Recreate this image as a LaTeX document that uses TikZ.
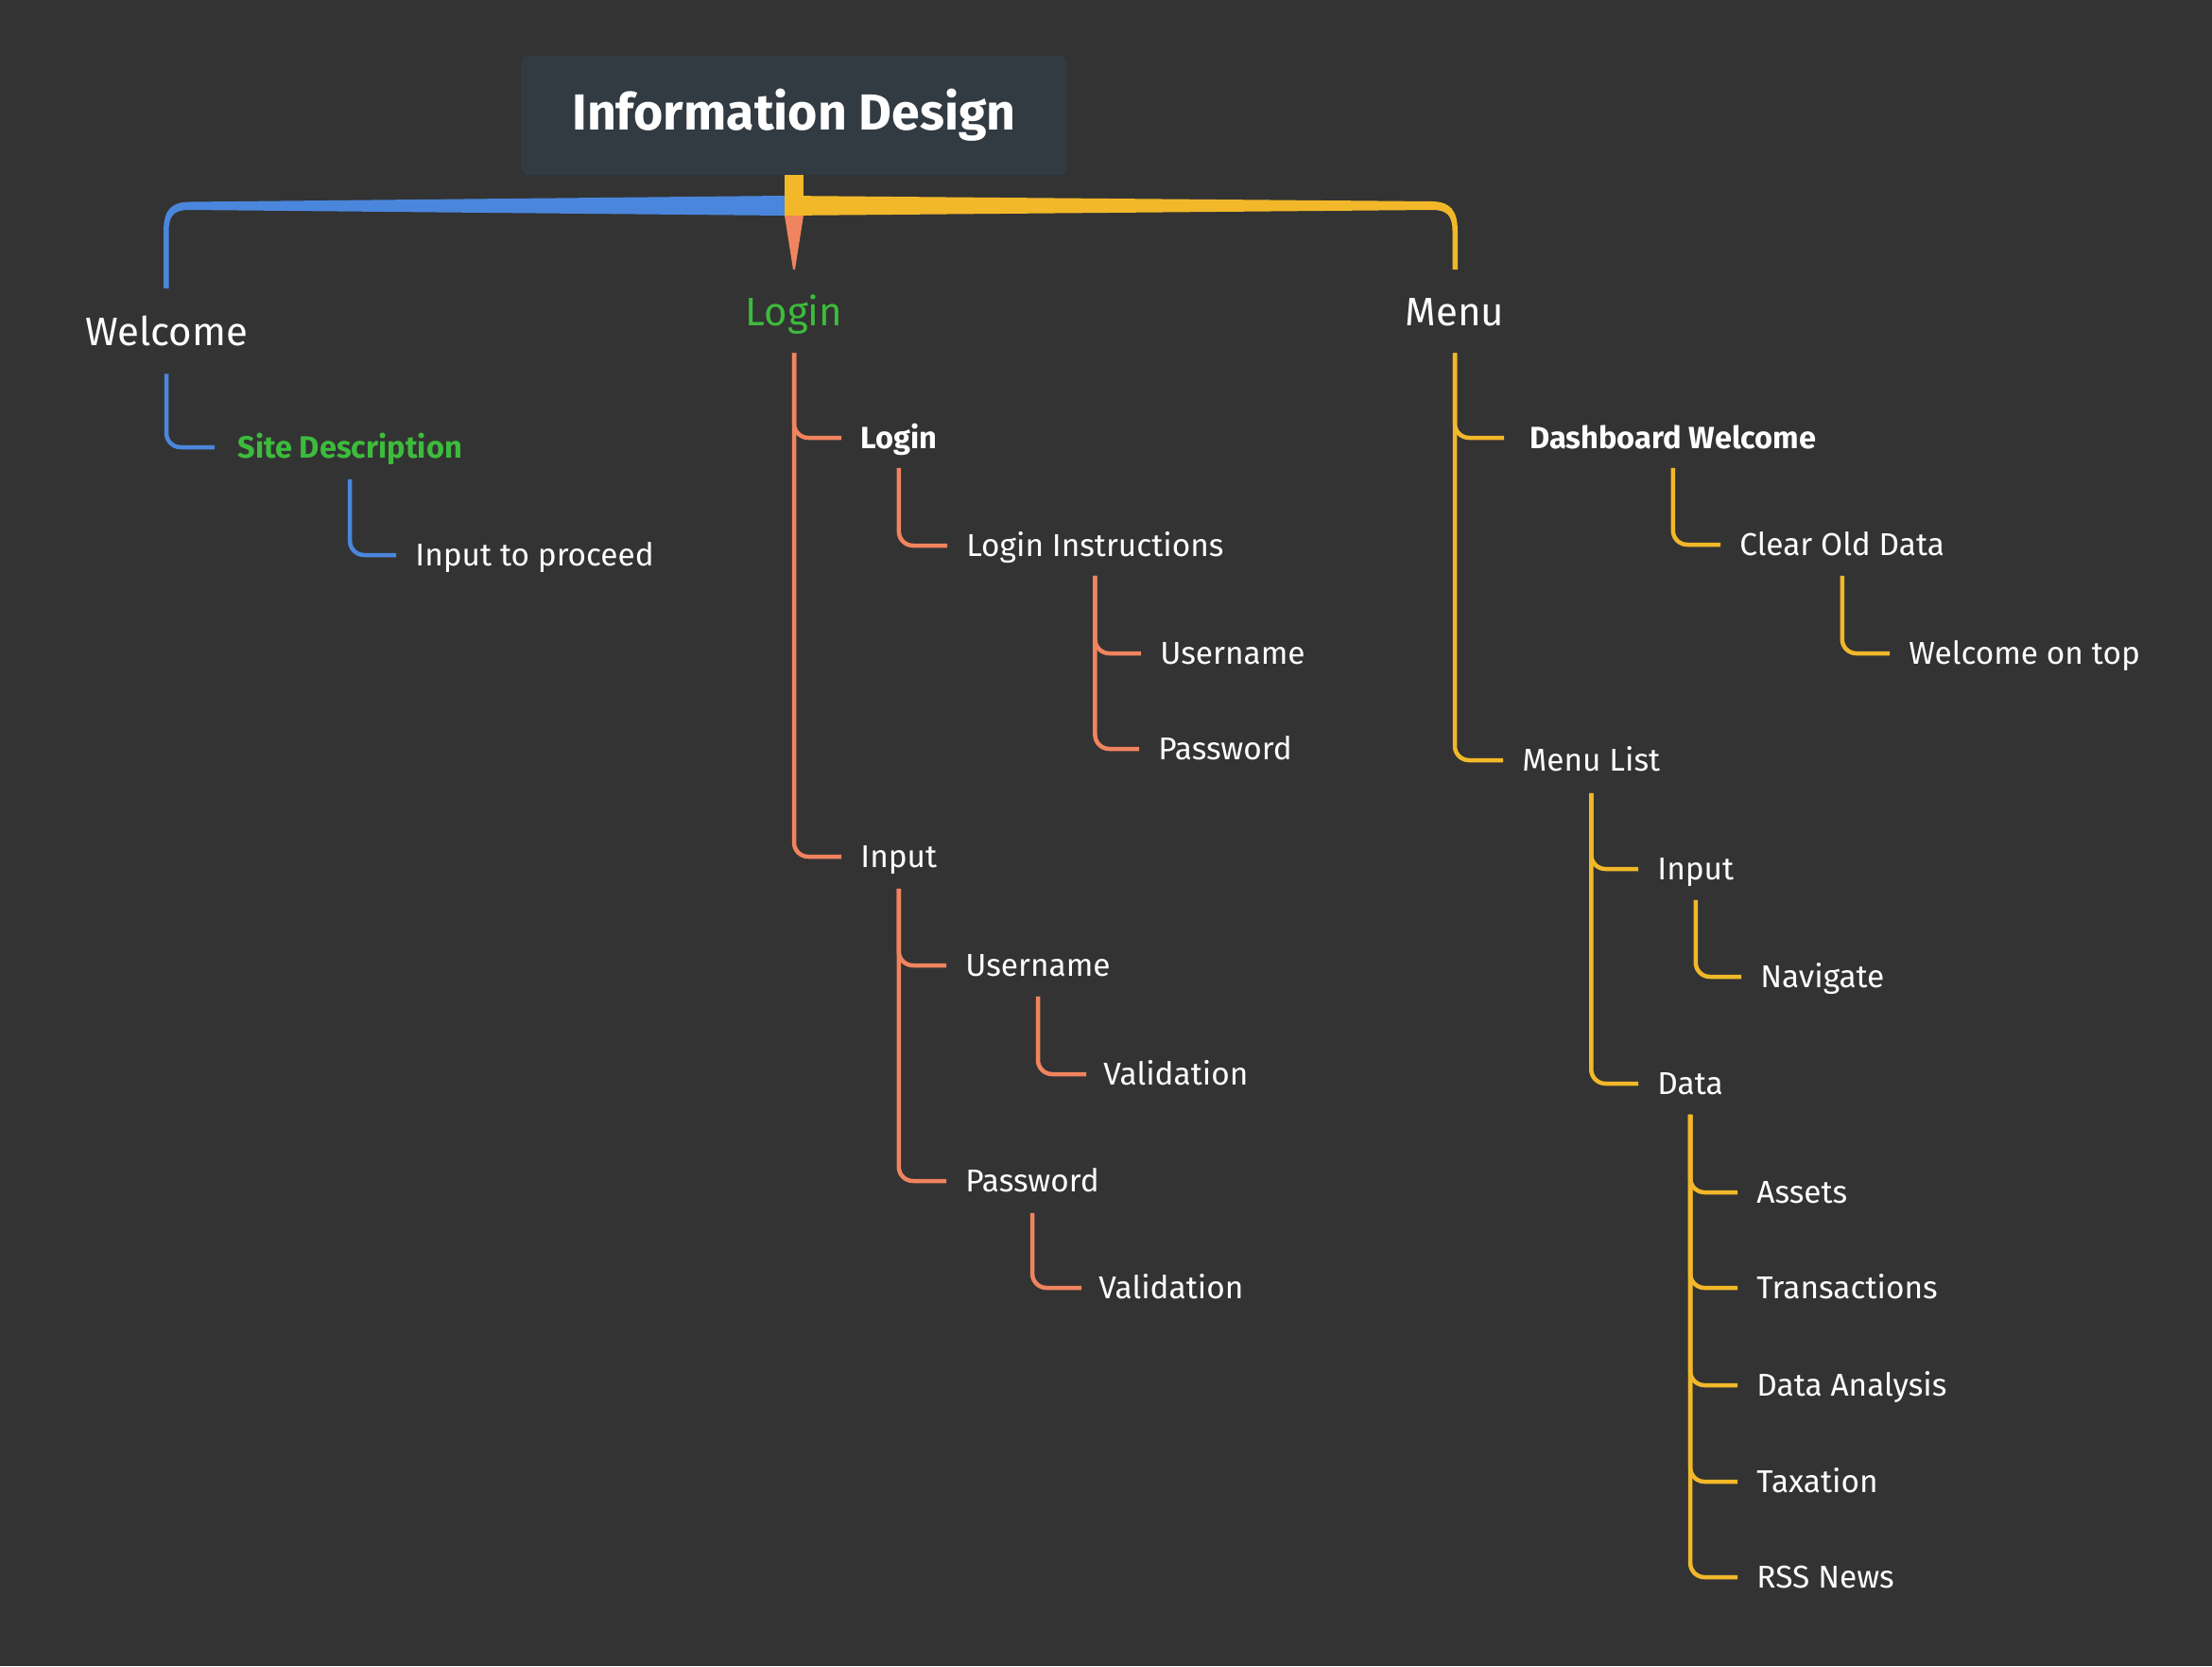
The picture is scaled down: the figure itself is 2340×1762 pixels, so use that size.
\documentclass[tikz,border=0pt]{standalone}
\usepackage{fontspec}
\setmainfont{Fira Sans}
\usetikzlibrary{calc}
\definecolor{bgc}{HTML}{333333}
\definecolor{boxc}{HTML}{323A42}
\definecolor{cblue}{HTML}{4A86DC}
\definecolor{cyel}{HTML}{F2B829}
\definecolor{csal}{HTML}{F0845F}
\definecolor{cgreen}{HTML}{3DBB3D}
\begin{document}
\begin{tikzpicture}[x=0.5pt,y=-0.5pt,
  lbl/.style={inner sep=0pt, text depth=0pt, text=white},
  top/.style={lbl, anchor=center, text height=14.5pt, font=\fontsize{21}{24}\selectfont},
  sub/.style={lbl, anchor=west, text height=11.5pt, font=\fontsize{16.7}{20}\selectfont},
  subb/.style={sub, font=\fontsize{16.3}{20}\selectfont\bfseries},
  conn/.style={line width=2.25pt, rounded corners=7.5pt},
  cb/.style={conn, draw=cblue},
  cs/.style={conn, draw=csal},
  cy/.style={conn, draw=cyel}]

% canvas
\fill[bgc] (0,0) rectangle (2340,1762);
\useasboundingbox (0,0) rectangle (2340,1762);

% central topic
\node[fill=boxc, rounded corners=4pt, minimum width=288.5pt, minimum height=63pt,
      inner sep=0pt, text=white, font=\fontsize{26.8}{30}\selectfont\bfseries]
      (title) at (840,122) {\raisebox{-1pt}{Information Design}};

% main branches
\node[top] (welcome) at (176,351) {Welcome};
\node[top, text=cgreen] (login) at (840,330) {Login};
\node[top] (menu) at (1539,330) {Menu};

% tapered branch shapes from the central topic
\fill[cyel] (830,185) rectangle (850,208);
\fill[cblue] (830,207) -- (200,213.5)
  .. controls (181,214) and (173,222) .. (173,245) -- (173,305) -- (178.5,305) -- (178.5,245)
  .. controls (178.5,228) and (184,222) .. (200,222) -- (830,228) -- cycle;
\fill[cyel] (830,207) -- (1515,213)
  .. controls (1534,213.5) and (1542,222) .. (1542,245) -- (1542,285) -- (1536.5,285) -- (1536.5,245)
  .. controls (1536.5,228) and (1531,222) .. (1515,222) -- (830,228) -- cycle;
\fill[csal] (830,228) -- (850,228) -- (841,285) -- (839,285) -- cycle;

% Welcome subtree
\node[subb, text=cgreen] (site) at (251,473) {Site Description};
\node[sub] (proceed) at (439,587) {Input to proceed};
\draw[cb] ([yshift=-14.75pt]welcome.south) |- ([xshift=-12pt]site.west);
\draw[cb] ([yshift=-11pt]site.south) |- ([xshift=-10pt]proceed.west);

% Login subtree
\node[subb] (loginb) at (910,463) {Login};
\node[sub] (linstr) at (1022,577) {Login Instructions};
\node[sub] (lusr) at (1227,691) {Username};
\node[sub] (lpwd) at (1225,792) {Password};
\node[sub] (linput) at (910,906) {Input};
\node[sub] (iusr) at (1021,1021) {Username};
\node[sub] (ival1) at (1167,1136) {Validation};
\node[sub] (ipwd) at (1021,1249) {Password};
\node[sub] (ival2) at (1162,1362) {Validation};
\draw[cs] ([yshift=-14.25pt]login.south) |- ([xshift=-10pt]loginb.west);
\draw[cs] ([yshift=-14.25pt]login.south) |- ([xshift=-10pt]linput.west);
\draw[cs] ([yshift=-10pt]loginb.south) |- ([xshift=-10pt]linstr.west);
\draw[cs] ([yshift=-10pt]linstr.south) |- ([xshift=-10pt]lusr.west);
\draw[cs] ([yshift=-10pt]linstr.south) |- ([xshift=-10pt]lpwd.west);
\draw[cs] ([yshift=-11pt]linput.south) |- ([xshift=-10pt]iusr.west);
\draw[cs] ([yshift=-11pt]linput.south) |- ([xshift=-10pt]ipwd.west);
\draw[cs] ([yshift=-10.5pt]iusr.south) |- ([xshift=-9pt]ival1.west);
\draw[cs] ([yshift=-11pt]ipwd.south) |- ([xshift=-9pt]ival2.west);

% Menu subtree
\node[subb] (dash) at (1618,463) {Dashboard Welcome};
\node[sub] (clear) at (1840,576) {Clear Old Data};
\node[sub] (wtop) at (2019,691) {Welcome on top};
\node[sub] (mlist) at (1610,804) {Menu List};
\node[sub] (minput) at (1753,919) {Input};
\node[sub] (nav) at (1862,1033) {Navigate};
\node[sub] (data) at (1753,1146) {Data};
\node[sub] (assets) at (1858,1261) {Assets};
\node[sub] (trans) at (1858,1362) {Transactions};
\node[sub] (anal) at (1858,1465) {Data Analysis};
\node[sub] (tax) at (1858,1567) {Taxation};
\node[sub] (rss) at (1858,1668) {RSS News};
\draw[cy] ([yshift=-14.25pt]menu.south) |- ([xshift=-13.5pt]dash.west);
\draw[cy] ([yshift=-14.25pt]menu.south) |- ([xshift=-10pt]mlist.west);
\draw[cy] ([yshift=-10pt]dash.south) |- ([xshift=-10pt]clear.west);
\draw[cy] ([yshift=-10.5pt]clear.south) |- ([xshift=-10pt]wtop.west);
\draw[cy] ([yshift=-11.5pt]mlist.south) |- ([xshift=-10pt]minput.west);
\draw[cy] ([yshift=-11.5pt]mlist.south) |- ([xshift=-10pt]data.west);
\draw[cy] ([yshift=-10.5pt]minput.south) |- ([xshift=-10pt]nav.west);
\draw[cy] ([yshift=-10.5pt]data.south) |- ([xshift=-10pt]assets.west);
\draw[cy] ([yshift=-10.5pt]data.south) |- ([xshift=-10pt]trans.west);
\draw[cy] ([yshift=-10.5pt]data.south) |- ([xshift=-10pt]anal.west);
\draw[cy] ([yshift=-10.5pt]data.south) |- ([xshift=-10pt]tax.west);
\draw[cy] ([yshift=-10.5pt]data.south) |- ([xshift=-10pt]rss.west);
\end{tikzpicture}
\end{document}
